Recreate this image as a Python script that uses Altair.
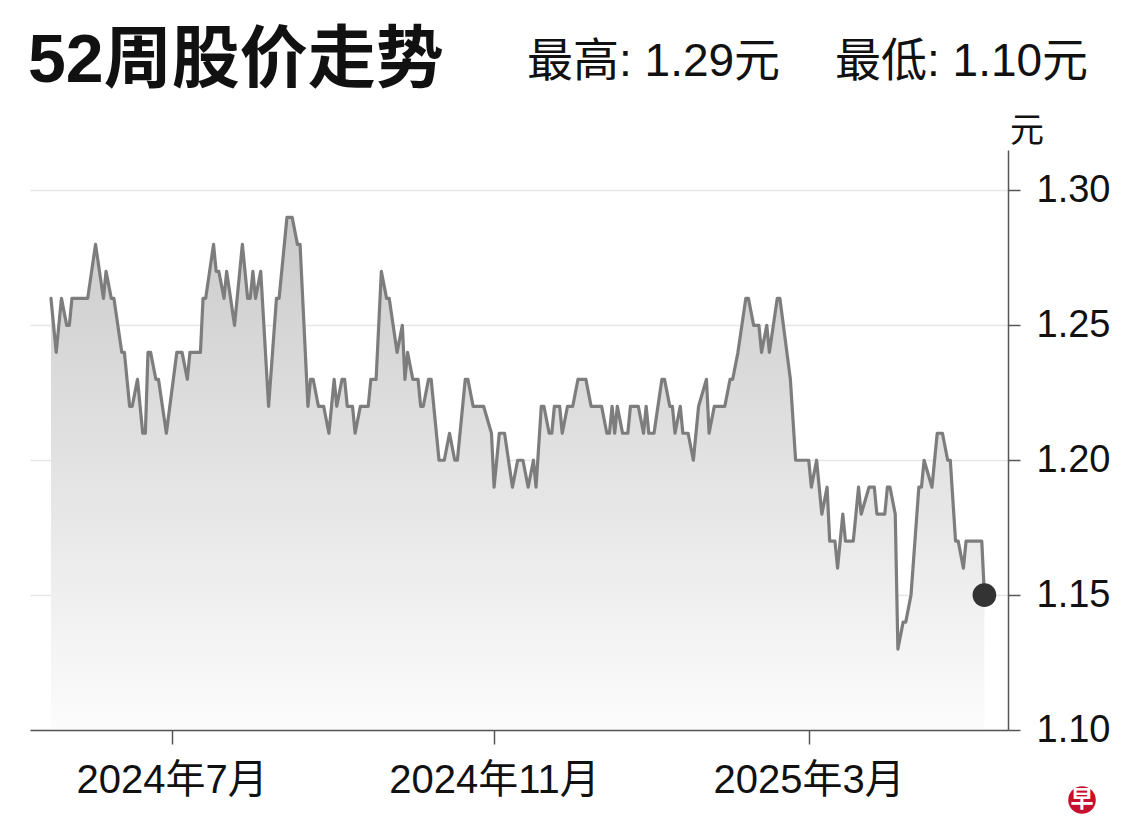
import altair as alt
import pandas as pd

dates = [
    "2024-05-16", "2024-05-18", "2024-05-20", "2024-05-22", "2024-05-23", "2024-05-24", "2024-05-30",
    "2024-06-02", "2024-06-05", "2024-06-06", "2024-06-08", "2024-06-09", "2024-06-12", "2024-06-13",
    "2024-06-15", "2024-06-16", "2024-06-18", "2024-06-20", "2024-06-21", "2024-06-22", "2024-06-23",
    "2024-06-25", "2024-06-26", "2024-06-29", "2024-07-03", "2024-07-05", "2024-07-07", "2024-07-08",
    "2024-07-12", "2024-07-13", "2024-07-14", "2024-07-17", "2024-07-18", "2024-07-19", "2024-07-21",
    "2024-07-22", "2024-07-25", "2024-07-28", "2024-07-30", "2024-07-31", "2024-08-01", "2024-08-02",
    "2024-08-04", "2024-08-07", "2024-08-10", "2024-08-11", "2024-08-14", "2024-08-16", "2024-08-18",
    "2024-08-19", "2024-08-22", "2024-08-23", "2024-08-24", "2024-08-26", "2024-08-28", "2024-08-30",
    "2024-09-01", "2024-09-02", "2024-09-04", "2024-09-05", "2024-09-06", "2024-09-08", "2024-09-09",
    "2024-09-11", "2024-09-14", "2024-09-15", "2024-09-17", "2024-09-19", "2024-09-21", "2024-09-22",
    "2024-09-25", "2024-09-27", "2024-09-28", "2024-09-29", "2024-10-01", "2024-10-03", "2024-10-04",
    "2024-10-05", "2024-10-07", "2024-10-08", "2024-10-11", "2024-10-13", "2024-10-15", "2024-10-17",
    "2024-10-18", "2024-10-21", "2024-10-22", "2024-10-24", "2024-10-28", "2024-10-31", "2024-11-01",
    "2024-11-03", "2024-11-05", "2024-11-08", "2024-11-10", "2024-11-12", "2024-11-14", "2024-11-16",
    "2024-11-17", "2024-11-19", "2024-11-20", "2024-11-22", "2024-11-23", "2024-11-24", "2024-11-26",
    "2024-11-27", "2024-11-29", "2024-12-01", "2024-12-03", "2024-12-06", "2024-12-08", "2024-12-12",
    "2024-12-14", "2024-12-15", "2024-12-16", "2024-12-17", "2024-12-18", "2024-12-20", "2024-12-22",
    "2024-12-23", "2024-12-26", "2024-12-28", "2024-12-29", "2024-12-30", "2025-01-01", "2025-01-04",
    "2025-01-05", "2025-01-07", "2025-01-08", "2025-01-09", "2025-01-11", "2025-01-12", "2025-01-14",
    "2025-01-16", "2025-01-18", "2025-01-21", "2025-01-22", "2025-01-24", "2025-01-28", "2025-01-30",
    "2025-01-31", "2025-02-02", "2025-02-05", "2025-02-06", "2025-02-08", "2025-02-10", "2025-02-11",
    "2025-02-13", "2025-02-14", "2025-02-17", "2025-02-18", "2025-02-22", "2025-02-24", "2025-03-01",
    "2025-03-02", "2025-03-04", "2025-03-06", "2025-03-08", "2025-03-09", "2025-03-11", "2025-03-12",
    "2025-03-14", "2025-03-15", "2025-03-18", "2025-03-20", "2025-03-21", "2025-03-24", "2025-03-26",
    "2025-03-27", "2025-03-30", "2025-03-31", "2025-04-01", "2025-04-03", "2025-04-04", "2025-04-06",
    "2025-04-07", "2025-04-09", "2025-04-12", "2025-04-13", "2025-04-14", "2025-04-17", "2025-04-19",
    "2025-04-21", "2025-04-23", "2025-04-24", "2025-04-26", "2025-04-27", "2025-04-29", "2025-04-30",
    "2025-05-06", "2025-05-07",
]
prices = [
    1.26, 1.24, 1.26, 1.25, 1.25, 1.26, 1.26,
    1.28, 1.26, 1.27, 1.26, 1.26, 1.24, 1.24,
    1.22, 1.22, 1.23, 1.21, 1.21, 1.24, 1.24,
    1.23, 1.23, 1.21, 1.24, 1.24, 1.23, 1.24,
    1.24, 1.26, 1.26, 1.28, 1.27, 1.27, 1.26,
    1.27, 1.25, 1.28, 1.26, 1.26, 1.27, 1.26,
    1.27, 1.22, 1.26, 1.26, 1.29, 1.29, 1.28,
    1.28, 1.22, 1.23, 1.23, 1.22, 1.22, 1.21,
    1.23, 1.22, 1.23, 1.23, 1.22, 1.22, 1.21,
    1.22, 1.22, 1.23, 1.23, 1.27, 1.26, 1.26,
    1.24, 1.25, 1.23, 1.24, 1.23, 1.23, 1.22,
    1.22, 1.23, 1.23, 1.20, 1.20, 1.21, 1.20,
    1.20, 1.23, 1.23, 1.22, 1.22, 1.21, 1.19,
    1.21, 1.21, 1.19, 1.20, 1.20, 1.19, 1.20,
    1.19, 1.22, 1.22, 1.21, 1.21, 1.22, 1.22,
    1.21, 1.22, 1.22, 1.23, 1.23, 1.22, 1.22,
    1.21, 1.21, 1.22, 1.21, 1.22, 1.21, 1.21,
    1.22, 1.22, 1.21, 1.22, 1.21, 1.21, 1.23,
    1.23, 1.22, 1.22, 1.21, 1.22, 1.21, 1.21,
    1.20, 1.22, 1.23, 1.21, 1.22, 1.22, 1.23,
    1.23, 1.24, 1.26, 1.26, 1.25, 1.25, 1.24,
    1.25, 1.24, 1.26, 1.26, 1.23, 1.20, 1.20,
    1.19, 1.20, 1.18, 1.19, 1.17, 1.17, 1.16,
    1.18, 1.17, 1.17, 1.19, 1.18, 1.19, 1.19,
    1.18, 1.18, 1.19, 1.19, 1.18, 1.13, 1.14,
    1.14, 1.15, 1.19, 1.19, 1.20, 1.19, 1.21,
    1.21, 1.20, 1.20, 1.17, 1.17, 1.16, 1.17,
    1.17, 1.15,
]

y_ticks = [1.10, 1.15, 1.20, 1.25, 1.30]
y_domain = [1.10, 1.315]
y_baseline = 1.10
x_tick_dates = ["2024-07-01", "2024-11-01", "2025-03-01"]
x_domain_dates = ["2024-05-08", "2025-05-16"]

title_text = "52周股价走势"
high_text = "最高: 1.29元"
low_text = "最低: 1.10元"
unit_text = "元"
logo_text = "早"

FONT = "Liberation Sans, Arial, Noto Sans CJK SC, sans-serif"


def ms(d):
    return int(pd.Timestamp(d, tz="UTC").value // 10**6)


df = pd.DataFrame({"date": dates, "price": prices})
last_df = df.tail(1)

x_enc = alt.X(
    "date:T",
    scale=alt.Scale(type="utc", domain=[ms(d) for d in x_domain_dates]),
    axis=alt.Axis(
        values=[ms(d) for d in x_tick_dates],
        labelExpr="utcFormat(datum.value, '%Y年%-m月')",
        title=None,
        grid=False,
        domainColor="#555555",
        domainWidth=1.5,
        tickColor="#555555",
        tickWidth=1.5,
        tickSize=14,
        labelFont=FONT,
        labelFontSize=40,
        labelColor="#111111",
        labelPadding=16,
        labelLimit=0,
        zindex=1,
    ),
)
y_enc = alt.Y(
    "price:Q",
    scale=alt.Scale(domain=y_domain, zero=False, nice=False),
    axis=alt.Axis(
        orient="right",
        values=y_ticks,
        format=".2f",
        title=None,
        grid=True,
        gridColor="#e6e6e6",
        gridWidth=1.5,
        domainColor="#555555",
        domainWidth=1.5,
        tickColor="#555555",
        tickWidth=1.5,
        tickSize=12,
        labelFont=FONT,
        labelFontSize=38,
        labelColor="#111111",
        labelPadding=16,
    ),
)

base = alt.Chart(df)

area = base.mark_area(
    color=alt.Gradient(
        gradient="linear",
        stops=[
            alt.GradientStop(color="#cbcbcb", offset=0),
            alt.GradientStop(color="#fcfcfc", offset=1),
        ],
        x1=1, x2=1, y1=0, y2=1,
    ),
).encode(x=x_enc, y=y_enc, y2=alt.datum(y_baseline))

line = base.mark_line(
    color="#7d7d7d", strokeWidth=3.2, strokeJoin="round", strokeCap="round"
).encode(x="date:T", y="price:Q")

dot = alt.Chart(last_df).mark_circle(color="#333333", size=560, opacity=1).encode(
    x="date:T", y="price:Q"
)


def label(text, x, y, size, bold=False, align="left", color="#111111"):
    return alt.Chart(pd.DataFrame({"t": [text]})).mark_text(
        font=FONT, fontSize=size, fontWeight="bold" if bold else "normal",
        align=align, baseline="middle", color=color,
    ).encode(x=alt.value(x), y=alt.value(y), text="t:N")


title = label(title_text, -2, -88, 68, bold=True)
high = label(high_text, 497, -88, 46)
low = label(low_text, 805, -88, 46)
unit = label(unit_text, 997, -18, 34, align="center")

logo_bg = alt.Chart(pd.DataFrame({"t": [logo_text]})).mark_circle(
    color="#c8102e", size=760, opacity=1
).encode(x=alt.value(1052), y=alt.value(650))
logo = label(logo_text, 1052, 650, 23, bold=True, align="center", color="#ffffff")

chart = alt.layer(area, line, dot, title, high, low, unit, logo_bg, logo).properties(
    width=978,
    height=580,
    autosize=alt.AutoSizeParams(type="none"),
    padding={"left": 22, "top": 142, "right": 124, "bottom": 88},
    background="#ffffff",
).configure_view(stroke=None)

chart.save("out.html", embed_options={"renderer": "svg", "actions": False})
